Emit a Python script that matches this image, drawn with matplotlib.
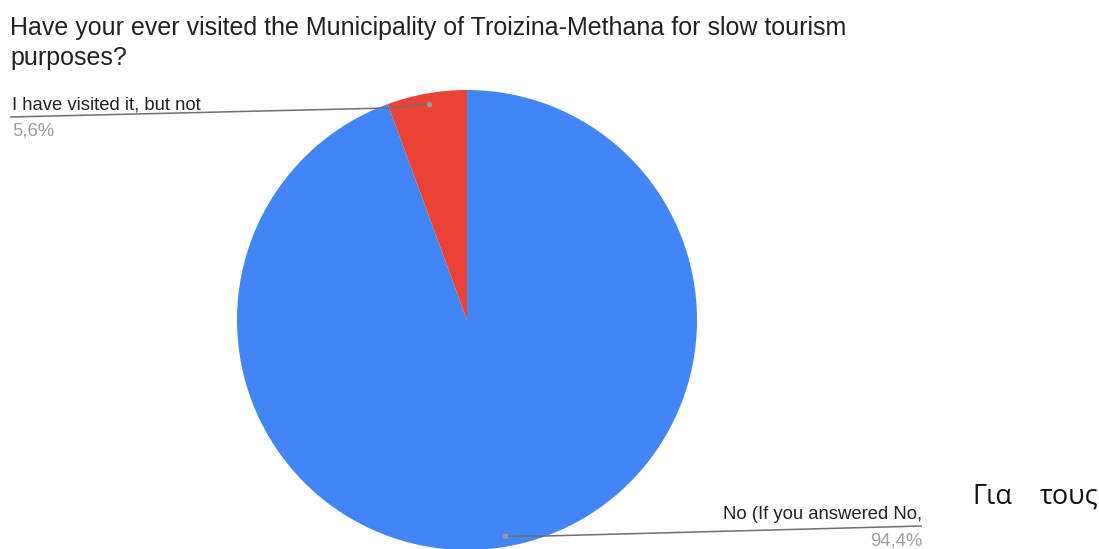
import numpy as np
import matplotlib
matplotlib.use("Agg")
import matplotlib.pyplot as plt

# Survey answers and their shares (%)
labels = ["No (If you answered No,", "I have visited it, but not"]
shares = [94.4, 5.6]
share_text = ["94,4%", "5,6%"]
colors = ["#4285F4", "#EA4335"]

title_lines = ["Have your ever visited the Municipality of Troizina-Methana for slow tourism",
               "purposes?"]
side_note = ["Για", "τους"]

W, H = 1099, 549
fig = plt.figure(figsize=(W / 100, H / 100), dpi=100)
fig.patch.set_facecolor("white")

# Pie axes: a square box of 460 px centred at (467, 320) from the top-left
cx, cy, r = 467, 320, 230
ax = fig.add_axes([(cx - r) / W, (H - cy - r) / H, 2 * r / W, 2 * r / H])
wedges, _ = ax.pie(shares, colors=colors, startangle=90, counterclock=False,
                   radius=1.0, wedgeprops=dict(linewidth=0))
ax.set_xlim(-1, 1)
ax.set_ylim(-1, 1)
ax.set_aspect("equal")
ax.axis("off")

# Overlay in pixel coordinates for titles, leader lines and labels
ov = fig.add_axes([0, 0, 1, 1], zorder=5)
ov.set_xlim(0, W)
ov.set_ylim(H, 0)
ov.axis("off")
ov.patch.set_alpha(0)

def to_px(x, y):
    disp = ax.transData.transform((x, y))
    return ov.transData.inverted().transform(disp)

for k, line in enumerate(title_lines):
    ov.text(10, 35 + 30 * k, line, ha="left", va="baseline", fontsize=18.0,
            family="Liberation Sans", color="#222222")

# Leader lines from each slice's mid-angle
layout = {
    0: dict(elbow=(545, 536), end=(922, 526), ha="right", tx=922),
    1: dict(elbow=(388, 108), end=(10, 117), ha="left", tx=12),
}
for i, w in enumerate(wedges):
    mid = np.deg2rad((w.theta1 + w.theta2) / 2)
    dx, dy = to_px(0.955 * np.cos(mid), 0.955 * np.sin(mid))
    lay = layout[i]
    ex, ey = lay["elbow"]
    ux, uy = lay["end"]
    ov.plot([dx, ex, ux], [dy, ey, uy], color="#6f6f6f", lw=1.1,
            solid_capstyle="butt")
    ov.plot([dx], [dy], "o", ms=4, color="#9a9a9a", mec="none")
    ov.text(lay["tx"], uy - 7, labels[i], ha=lay["ha"], va="baseline",
            fontsize=13.3, family="Liberation Sans", color="#222222")
    ov.text(lay["tx"], uy + 6, share_text[i], ha=lay["ha"], va="top",
            fontsize=13.3, family="Liberation Sans", color="#9e9e9e")

ov.text(972, 504, side_note[0], ha="left", va="baseline", fontsize=19.5,
        family="Open Sans", color="#111111")
ov.text(1098, 504, side_note[1], ha="right", va="baseline", fontsize=19.5,
        family="Open Sans", color="#111111")

fig.savefig("out.png", dpi=100, facecolor="white")
